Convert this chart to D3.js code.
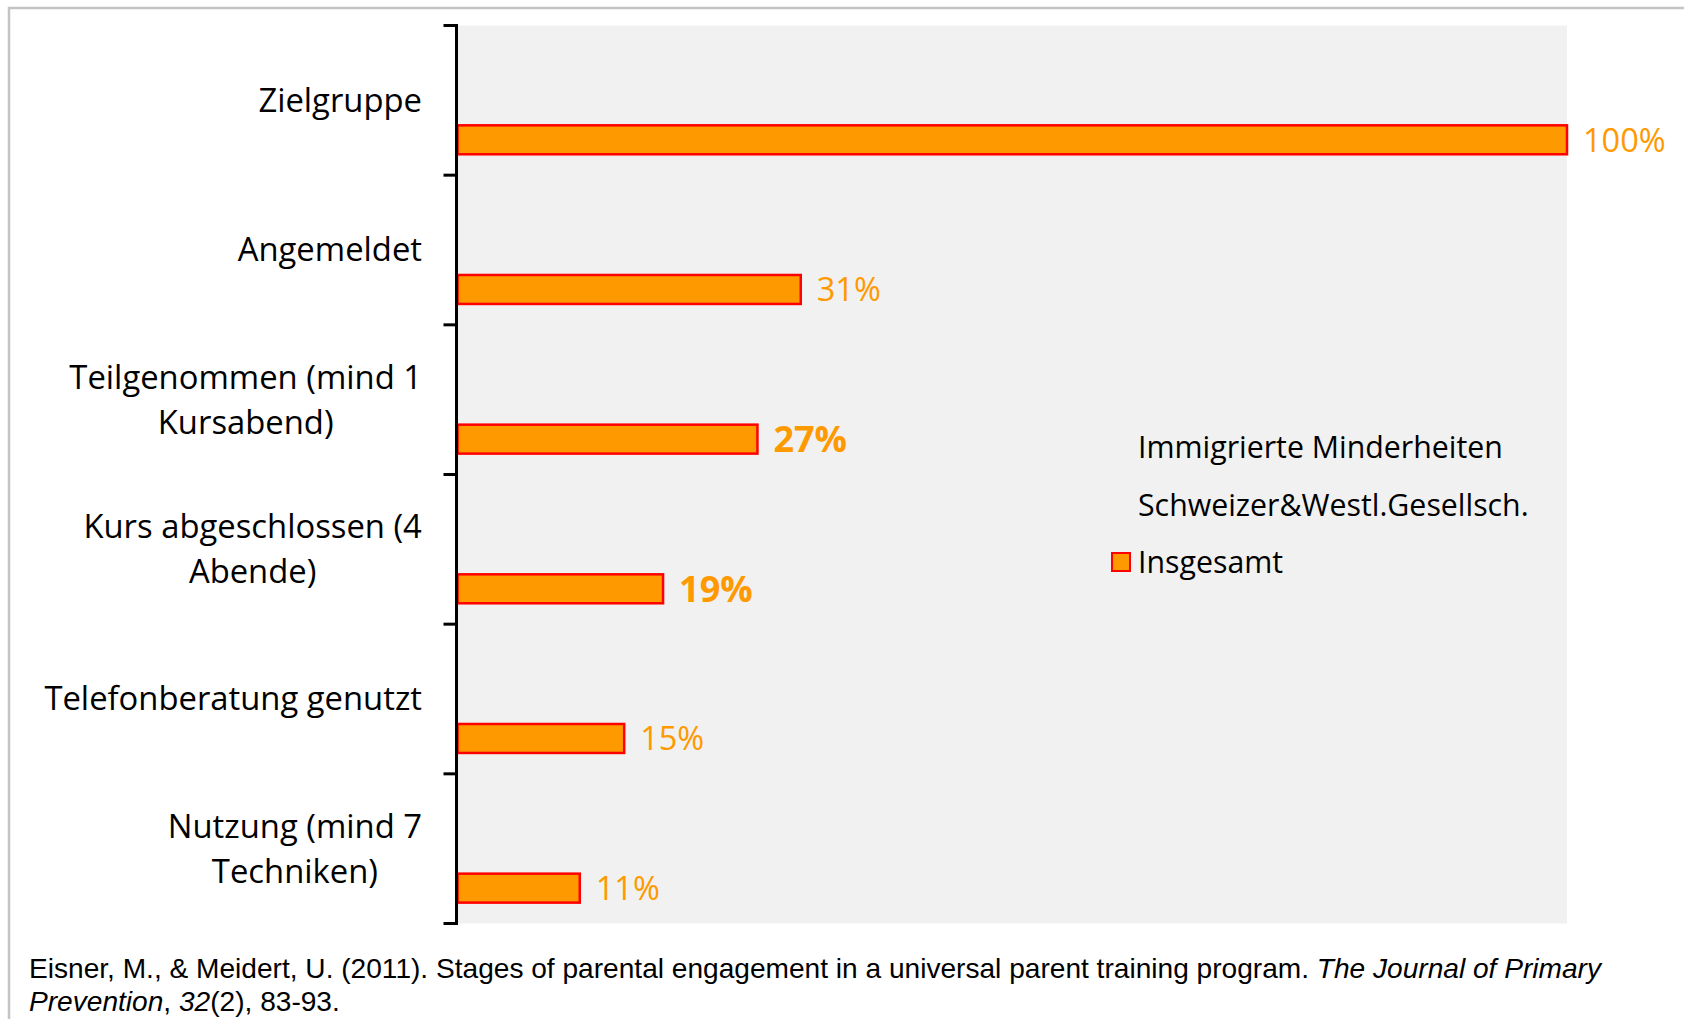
<!DOCTYPE html>
<html><head><meta charset="utf-8">
<script src="https://cdn.jsdelivr.net/npm/d3@7"></script>
<style>
html,body{margin:0;padding:0;background:#fff;}
svg{display:block;}
</style></head>
<body>
<svg id="chart" width="1684" height="1019"></svg>
<script>
const categories = [
  ["Zielgruppe"],
  ["Angemeldet"],
  ["Teilgenommen (mind 1", "Kursabend)"],
  ["Kurs abgeschlossen (4", "Abende)"],
  ["Telefonberatung genutzt"],
  ["Nutzung (mind 7", "Techniken)"]
];
const seriesNames = ["Immigrierte Minderheiten", "Schweizer&Westl.Gesellsch.", "Insgesamt"];
const insgesamt = [100, 31, 27.1, 18.6, 15.1, 11.1];
const valueLabels = ["100%", "31%", "27%", "19%", "15%", "11%"];
const boldLabel = [false, false, true, true, false, false];
const citation1 = "Eisner, M., & Meidert, U. (2011). Stages of parental engagement in a universal parent training program. ";
const citation1i = "The Journal of Primary";
const citation2i = "Prevention";
const citation2a = ", ";
const citation2b = "32";
const citation2c = "(2), 83-93.";

const svg = d3.select("#chart");
const font = "'Open Sans', Lato, sans-serif";
const orange = "#FF9900";

// outer frame (top + left border)
svg.append("rect").attr("x", 9).attr("y", 8).attr("width", 1700).attr("height", 1100)
  .attr("fill", "none").attr("stroke", "#c4c4c4").attr("stroke-width", 2.5);

const plot = {left: 456.5, right: 1567, top: 25.5, bottom: 923.5};
svg.append("rect").attr("x", plot.left).attr("y", plot.top)
  .attr("width", plot.right - plot.left).attr("height", plot.bottom - plot.top)
  .attr("fill", "#f1f1f1");

const catKeys = categories.map((c, i) => i);
const y = d3.scaleBand().domain(catKeys).range([plot.top, plot.bottom]).padding(0);
const ySub = d3.scaleBand().domain(seriesNames).range([0, y.bandwidth()])
  .paddingInner(0.266).paddingOuter(0.529);
const x = d3.scaleLinear().domain([0, 100]).range([plot.left, plot.right]);

// bars (only "Insgesamt" has data)
const g = svg.append("g");
g.selectAll("rect.bar").data(insgesamt).join("rect")
  .attr("class", "bar")
  .attr("x", x(0) + 1)
  .attr("y", (d, i) => y(i) + ySub("Insgesamt"))
  .attr("width", d => x(d) - x(0) - 1)
  .attr("height", ySub.bandwidth())
  .attr("fill", orange).attr("stroke", "#FF0000").attr("stroke-width", 2.5);

// value labels
g.selectAll("text.val").data(insgesamt).join("text")
  .attr("class", "val")
  .attr("x", d => x(d) + 16)
  .attr("y", (d, i) => y(i) + ySub("Insgesamt") + ySub.bandwidth() / 2)
  .attr("dy", "0.36em")
  .attr("font-family", font)
  .attr("font-size", (d, i) => boldLabel[i] ? 36 : 32.5)
  .attr("font-weight", (d, i) => boldLabel[i] ? "bold" : "normal")
  .attr("fill", orange)
  .text((d, i) => valueLabels[i]);

// axis line + ticks between categories
const boundaries = catKeys.map(i => y(i)).concat([y(catKeys[catKeys.length - 1]) + y.step()]);
svg.append("line").attr("x1", plot.left).attr("x2", plot.left)
  .attr("y1", plot.top - 1.5).attr("y2", plot.bottom + 1.5)
  .attr("stroke", "#000").attr("stroke-width", 3);
svg.selectAll("line.tick").data(boundaries).join("line")
  .attr("class", "tick")
  .attr("x1", plot.left - 13).attr("x2", plot.left)
  .attr("y1", d => d).attr("y2", d => d)
  .attr("stroke", "#000").attr("stroke-width", 3);

// category labels: block right-aligned, lines centered
const lineH = 45;
const labelRight = 422;
categories.forEach((lines, i) => {
  const cy = y(i) + y.bandwidth() / 2;
  const t = svg.append("text")
    .attr("font-family", font).attr("font-size", 32.8).attr("fill", "#000")
    .attr("text-anchor", "middle");
  lines.forEach((ln, k) => {
    t.append("tspan").attr("x", 0)
      .attr("y", cy + (k - (lines.length - 1) / 2) * lineH)
      .attr("dy", "0.35em").text(ln);
  });
  const w = t.node().getBBox().width;
  t.attr("transform", `translate(${labelRight - w / 2},0)`);
});

// legend
const legX = 1138, legRows = [447, 505, 562];
seriesNames.forEach((s, i) => {
  svg.append("text").attr("x", legX).attr("y", legRows[i]).attr("dy", "0.35em")
    .attr("font-family", font).attr("font-size", 30.3).attr("fill", "#000").text(s);
});
svg.append("rect").attr("x", 1112).attr("y", legRows[2] - 9).attr("width", 18).attr("height", 18)
  .attr("fill", orange).attr("stroke", "#FF0000").attr("stroke-width", 2);

// citation
const cf = "'Liberation Sans', Arial, sans-serif";
const c1 = svg.append("text").attr("x", 29).attr("y", 978).attr("font-family", cf)
  .attr("font-size", 28.1).attr("fill", "#000");
c1.append("tspan").text(citation1);
c1.append("tspan").attr("font-style", "italic").text(citation1i);
const c2 = svg.append("text").attr("x", 29).attr("y", 1011).attr("font-family", cf)
  .attr("font-size", 28.1).attr("fill", "#000");
c2.append("tspan").attr("font-style", "italic").text(citation2i);
c2.append("tspan").text(citation2a);
c2.append("tspan").attr("font-style", "italic").text(citation2b);
c2.append("tspan").text(citation2c);
</script>
</body></html>
